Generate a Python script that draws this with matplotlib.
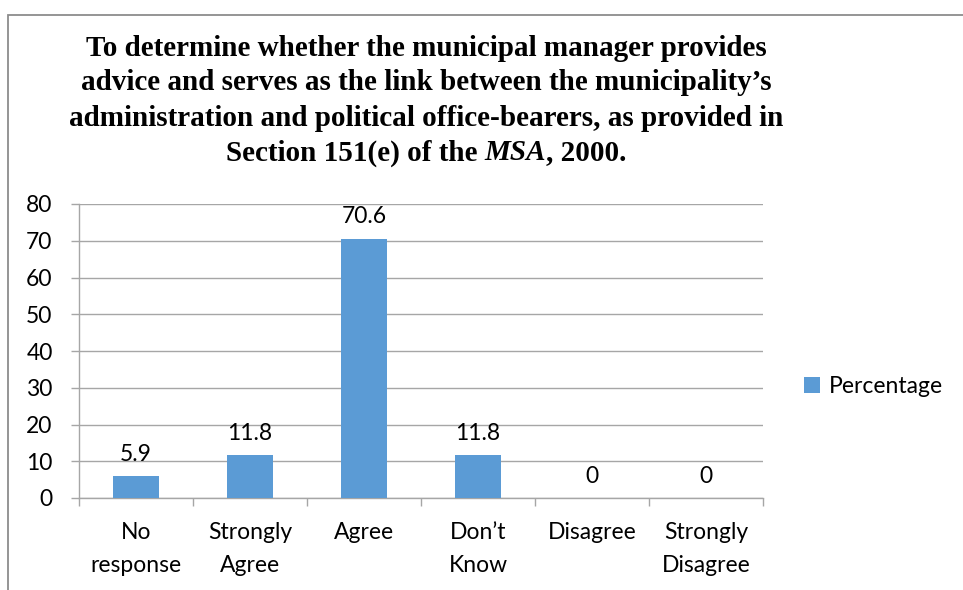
import matplotlib.pyplot as plt
from matplotlib.patches import Rectangle

# données
categories = ["No\nresponse", "Strongly\nAgree", "Agree", "Don\u2019t\nKnow", "Disagree", "Strongly\nDisagree"]
percentage = [5.9, 11.8, 70.6, 11.8, 0, 0]
value_labels = ["5.9", "11.8", "70.6", "11.8", "0", "0"]
y_ticks = [0, 10, 20, 30, 40, 50, 60, 70, 80]

bar_color = "#5B9BD5"
grid_color = "#A6A6A6"
sans = ["Lato", "DejaVu Sans"]
serif = ["Liberation Serif", "DejaVu Serif"]
fs = 16.5

fig = plt.figure(figsize=(9.63, 5.90), dpi=100)
W, H = 963, 590

# cadre extérieur du graphique
fig.patches.append(Rectangle((8 / W, -0.1), 1.2, 1.1 - 15 / H, transform=fig.transFigure,
                             fill=False, edgecolor="#8C8C8C", linewidth=1.3))

ax = fig.add_axes([79 / W, 1 - 498 / H, (763 - 79) / W, (498 - 204) / H])
x = list(range(len(categories)))
ax.bar(x, percentage, width=0.4, color=bar_color, zorder=3, label="Percentage")

ax.set_xlim(-0.5, len(categories) - 0.5)
ax.set_ylim(0, 80)
ax.set_yticks(y_ticks)
ax.yaxis.grid(True, color=grid_color, linewidth=1.0, zorder=0)
for s in ["top", "right"]:
    ax.spines[s].set_visible(False)
for s in ["left", "bottom"]:
    ax.spines[s].set_color(grid_color)
    ax.spines[s].set_linewidth(1.0)

ax.set_xticks(x)
ax.set_xticklabels(categories, fontsize=fs, family=sans, linespacing=1.7)
ax.set_xticks([i - 0.5 for i in range(len(categories) + 1)], minor=True)
ax.tick_params(axis="x", which="major", length=0, pad=17)
ax.tick_params(axis="x", which="minor", length=6, color=grid_color, width=1.0)
ax.tick_params(axis="y", length=6, color=grid_color, width=1.0, pad=13, labelsize=fs)
for t in ax.get_yticklabels():
    t.set_family(sans)

for xi, v, lab in zip(x, percentage, value_labels):
    ax.annotate(lab, (xi, v), xytext=(0, 8), textcoords="offset points",
                ha="center", va="bottom", fontsize=fs, family=sans)

leg = ax.legend(loc="center left", bbox_to_anchor=(1.03, 0.38), frameon=False,
                prop={"family": sans, "size": fs}, handlelength=0.7, handleheight=0.7,
                handletextpad=0.4)

# titre
title_lines = [
    "To determine whether the municipal manager provides",
    "advice and serves as the link between the municipality\u2019s",
    "administration and political office-bearers, as provided in",
]
ys = [48, 83, 118]
cx = 426 / W
tfs = 21
for line, yy in zip(title_lines, ys):
    fig.text(cx, 1 - yy / H, line, ha="center", va="center", fontsize=tfs,
             fontweight="bold", family=serif)

# dernière ligne avec MSA en italique
parts = [("Section 151(e) of the ", "normal"), ("MSA", "italic"), (", 2000.", "normal")]
renderer = fig.canvas.get_renderer()
texts = []
for s, st in parts:
    t = fig.text(0, 1 - 153 / H, s, ha="left", va="center", fontsize=tfs,
                 fontweight="bold", fontstyle=st, family=serif)
    texts.append(t)
widths = [t.get_window_extent(renderer).width for t in texts]
total = sum(widths)
xpos = cx * W - total / 2
for t, w in zip(texts, widths):
    t.set_x(xpos / W)
    xpos += w

fig.savefig("out.png", dpi=100)
